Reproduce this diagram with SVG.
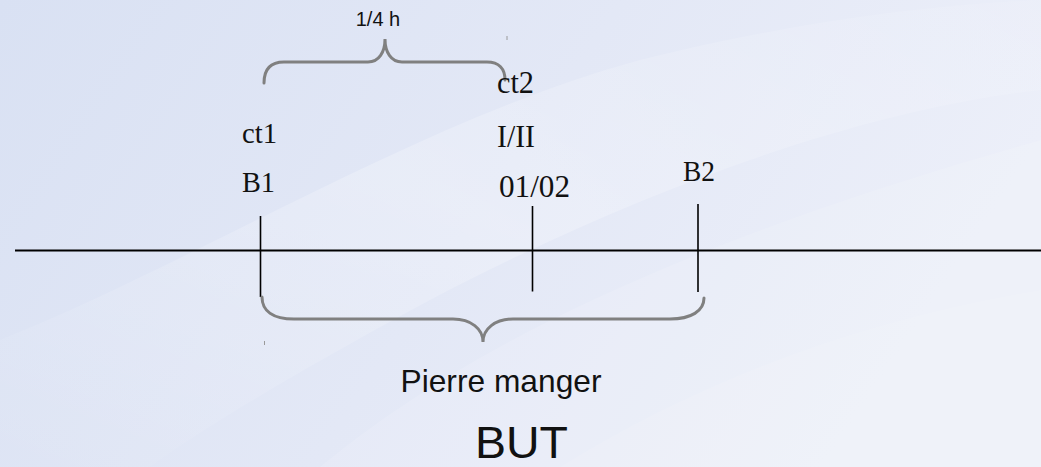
<svg xmlns="http://www.w3.org/2000/svg" width="1041" height="467" viewBox="0 0 1041 467">
  <defs>
    <linearGradient id="bg" x1="0" y1="0" x2="1" y2="0.3">
      <stop offset="0" stop-color="#d9e1f3"/>
      <stop offset="0.55" stop-color="#e3e8f6"/>
      <stop offset="1" stop-color="#eceff9"/>
    </linearGradient>
    <linearGradient id="streak" x1="0" y1="1" x2="1" y2="0">
      <stop offset="0" stop-color="#ffffff" stop-opacity="0"/>
      <stop offset="0.5" stop-color="#ffffff" stop-opacity="0.35"/>
      <stop offset="1" stop-color="#ffffff" stop-opacity="0.1"/>
    </linearGradient>
    <style>
      .serif { font-family: "Liberation Serif", "Times New Roman", serif; font-size: 29px; fill: #111; }
      .serif-l { font-family: "Liberation Serif", "Times New Roman", serif; font-size: 30.5px; fill: #111; }
      .sans { font-family: "Liberation Sans", Arial, sans-serif; fill: #111; }
      .tick { stroke: #000; stroke-width: 1.6; fill: none; }
      .axis { stroke: #000; stroke-width: 2; fill: none; }
      .brace { stroke: #808080; stroke-width: 3; fill: none; stroke-linecap: round; }
      .mark { stroke: #9a9a9a; stroke-width: 1; }
    </style>
  </defs>

  <g id="background">
    <rect x="0" y="0" width="1041" height="467" fill="url(#bg)"/>
    <path d="M0,340 C200,260 420,120 640,60 C780,25 920,5 1041,0 L1041,90 C860,110 640,190 430,300 C300,370 200,430 150,467 L0,467 Z" fill="url(#streak)" opacity="0.7"/>
    <path d="M320,467 C450,360 650,250 1041,140 L1041,467 Z" fill="#ffffff" opacity="0.12"/>
    <path d="M560,467 C700,380 860,320 1041,290 L1041,467 Z" fill="#ffffff" opacity="0.1"/>
  </g>

  <g id="connectors">
    <line id="axis" class="axis" x1="15" y1="250.5" x2="1041" y2="250.5"/>
    <line id="tick-b1" class="tick" x1="260.5" y1="216" x2="260.5" y2="297"/>
    <line id="tick-mid" class="tick" x1="532.5" y1="206" x2="532.5" y2="291.5"/>
    <line id="tick-b2" class="tick" x1="698" y1="204" x2="698" y2="292"/>
    <path id="brace-top" class="brace" d="M264,83 C264,69 271,62 284,62 L368,62 C379,62 385,52 385,39 C385,52 391,62 402,62 L487,62 C499,62 505,69 505,80"/>
    <path id="brace-bottom" class="brace" d="M262,297 C262,311 273,319 294,319 L453,319 C471,319 483,329 483,342 C483,329 495,319 513,319 L670,319 C691,319 704,311 704,298"/>
    <line class="mark" x1="507" y1="36" x2="507" y2="40"/>
    <line class="mark" x1="264.5" y1="341" x2="264.5" y2="345"/>
  </g>

  <g id="label-quarter">
    <text class="sans" x="378" y="26" font-size="20" text-anchor="middle">1/4 h</text>
  </g>
  <g id="node-ct1">
    <text class="serif" x="242" y="143" textLength="35" lengthAdjust="spacingAndGlyphs">ct1</text>
    <text class="serif" x="242" y="192" textLength="33" lengthAdjust="spacingAndGlyphs">B1</text>
  </g>
  <g id="node-ct2">
    <text class="serif-l" x="497" y="93" textLength="37" lengthAdjust="spacingAndGlyphs">ct2</text>
    <text class="serif-l" x="497" y="146.5" textLength="38" lengthAdjust="spacingAndGlyphs">I/II</text>
    <text class="serif-l" x="499" y="197" textLength="71" lengthAdjust="spacingAndGlyphs">01/02</text>
  </g>
  <g id="node-b2">
    <text class="serif" x="683" y="181" textLength="32" lengthAdjust="spacingAndGlyphs">B2</text>
  </g>
  <g id="label-pierre">
    <text class="sans" x="400.5" y="392" font-size="32" textLength="201" lengthAdjust="spacingAndGlyphs">Pierre manger</text>
  </g>
  <g id="label-but">
    <text class="sans" x="475" y="458" font-size="44" textLength="93" lengthAdjust="spacingAndGlyphs">BUT</text>
  </g>
</svg>
